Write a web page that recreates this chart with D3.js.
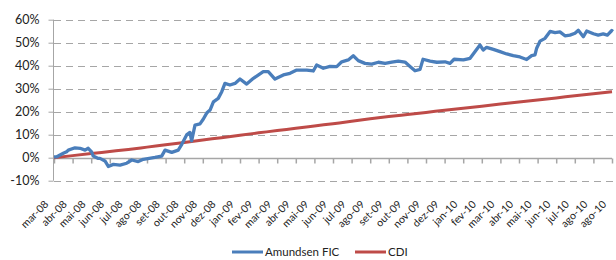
<!DOCTYPE html>
<html>
  <head>
    <meta charset="utf-8">
    <title>Amundsen FIC x CDI</title>
    <script src="https://d3js.org/d3.v7.min.js"></script>
    <style>
      body { margin: 0; background: #fff; }
      text { font-family: Lato, "Open Sans", sans-serif; fill: #222; }
    </style>
  </head>
  <body>
    <div id="chart"></div>
    <script>
      // month labels on the category axis (Excel repeats the last one)
      var monthLabels = ["mar-08","abr-08","mai-08","jun-08","jul-08","ago-08","set-08","out-08","nov-08","dez-08",
        "jan-09","fev-09","mar-09","abr-09","mai-09","jun-09","jul-09","ago-09","set-09","out-09","nov-09","dez-09",
        "jan-10","fev-10","mar-10","abr-10","mai-10","jun-10","jul-10","ago-10","ago-10"];
      var yTicks = [-10, 0, 10, 20, 30, 40, 50, 60];

      // fund: position in months since mar-08, cumulative return in %
      var fundT = [0,0.15,0.5,0.68,0.77,1.13,1.4,1.67,1.84,2.02,2.11,2.38,2.47,2.74,2.92,3.19,3.55,3.91,4.18,4.53,
        4.8,5.12,5.43,5.79,5.97,6.33,6.68,6.87,7.13,7.31,7.4,7.58,7.85,8.03,8.21,8.39,8.57,8.83,9.02,9.19,
        9.46,9.73,10,10.36,10.72,11.25,11.52,11.88,12.33,12.69,13.05,13.59,13.94,14.12,14.48,14.84,15.2,15.47,15.82,16.09,
        16.36,16.72,17.08,17.44,17.8,18.16,18.51,18.87,19.14,19.41,19.68,19.84,20.22,20.58,21.02,21.29,21.51,22.01,22.37,22.63,
        22.9,23.08,23.26,23.62,23.98,24.34,24.69,25.05,25.41,25.68,25.86,25.95,26.13,26.4,26.67,26.94,27.2,27.47,27.74,28.01,
        28.19,28.46,28.64,29,29.26,29.53,29.75,29.99,30.05];
      var fundV = [0.4,0.4,1.9,2.6,3.3,4.3,4.1,3.3,4.1,2.5,0.7,-0.3,-0.3,-1.4,-3.8,-2.9,-3.2,-2.4,-1,-1.7,
        -0.7,-0.3,0.1,0.7,3.3,2.3,3.3,5.8,9.9,11,7.3,14.2,14.7,16.8,19.4,20.7,24.3,25.8,28.7,32.3,
        31.6,32.3,34.2,32,34.5,37.4,37.4,34.2,36,36.7,38.1,38.1,37.7,40.3,38.9,39.7,39.6,41.7,42.5,44.3,
        42.2,41,40.7,41.5,41,41.6,42,41.6,39.7,37.8,38.4,42.8,42,41.5,41.7,41,42.8,42.5,43.2,46.1,
        49,46.8,48,47.1,46.1,45.1,44.4,43.8,42.7,44.4,44.7,47.6,50.7,51.9,54.9,54.4,54.7,53,53.3,54.1,
        55.4,52.6,55.1,53.9,53.3,53.8,53.3,55.3,54.9];

      // CDI cumulative %, one value per month tick
      var cdiV = [0,0.9,1.8,2.7,3.6,4.6,5.6,6.6,7.7,8.7,9.8,10.8,11.8,12.8,13.8,14.8,15.8,16.9,17.9,18.8,
        19.7,20.6,21.5,22.4,23.3,24.2,25.1,26,26.9,27.8,28.7];

      var width = 616, height = 260;
      var blue = "#4a7ebb", red = "#be4b48", grid = "#a6a6a6";

      var svg = d3.select("#chart").append("svg")
        .attr("width", width)
        .attr("height", height);

      var x = d3.scaleLinear().domain([0, monthLabels.length - 1]).range([54, 612]);
      var y = d3.scaleLinear().domain([-10, 60]).range([180.7, 19.7]);

      // dashed gridlines
      svg.append("g").selectAll("line")
        .data(yTicks.filter(function(d) { return d !== 0; }))
        .enter().append("line")
        .attr("x1", 54).attr("x2", 613)
        .attr("y1", function(d) { return Math.round(y(d)) + 0.5; })
        .attr("y2", function(d) { return Math.round(y(d)) + 0.5; })
        .attr("stroke", grid)
        .attr("stroke-dasharray", "7,5");

      // y axis
      var yAxis = svg.append("g")
        .attr("transform", "translate(53.5,0)")
        .call(d3.axisLeft(y).tickValues(yTicks).tickSize(5).tickPadding(9)
          .tickFormat(function(d) { return d + "%"; }));
      yAxis.selectAll("path, line").attr("stroke", grid);
      yAxis.select(".domain").attr("d", "M0," + y(60) + "V" + y(-10));
      yAxis.selectAll("text").style("font-family", "Lato, sans-serif")
        .style("font-size", "12.5px").attr("fill", "#222");

      // x axis at 0%
      var xAxis = svg.append("g")
        .attr("transform", "translate(0," + (Math.round(y(0)) + 0.5) + ")")
        .call(d3.axisBottom(x).tickValues(d3.range(monthLabels.length)).tickSize(5).tickFormat(""));
      xAxis.selectAll("path, line").attr("stroke", grid).attr("stroke-width", 1.5);
      xAxis.select(".domain").attr("d", "M" + x(0) + ",0H" + x(monthLabels.length - 1));

      // rotated month labels below the plot
      svg.append("g").selectAll("text")
        .data(monthLabels)
        .enter().append("text")
        .attr("transform", function(d, i) { return "translate(" + (x(i) - 5) + ",205) rotate(-45)"; })
        .attr("text-anchor", "end")
        .style("font-size", "10.5px")
        .text(function(d) { return d; });

      // series
      var fundLine = d3.line()
        .x(function(d, i) { return x(fundT[i]); })
        .y(function(d) { return y(d); });
      var cdiLine = d3.line()
        .x(function(d, i) { return x(i); })
        .y(function(d) { return y(d); })
        .curve(d3.curveMonotoneX);

      svg.append("path")
        .attr("d", cdiLine(cdiV))
        .attr("fill", "none").attr("stroke", red).attr("stroke-width", 3);
      svg.append("path")
        .attr("d", fundLine(fundV))
        .attr("fill", "none").attr("stroke", blue).attr("stroke-width", 3.3)
        .attr("stroke-linejoin", "round");

      // legend
      var legend = [{name: "Amundsen FIC", color: blue, x: 232}, {name: "CDI", color: red, x: 355}];
      var lg = svg.append("g").selectAll("g").data(legend).enter().append("g")
        .attr("transform", function(d) { return "translate(" + d.x + ",252)"; });
      lg.append("line").attr("x1", 0).attr("x2", 31)
        .attr("stroke", function(d) { return d.color; }).attr("stroke-width", 3);
      lg.append("text").attr("x", 33).attr("dy", "0.36em")
        .style("font-size", "11.5px")
        .text(function(d) { return d.name; });
    </script>
  </body>
</html>
